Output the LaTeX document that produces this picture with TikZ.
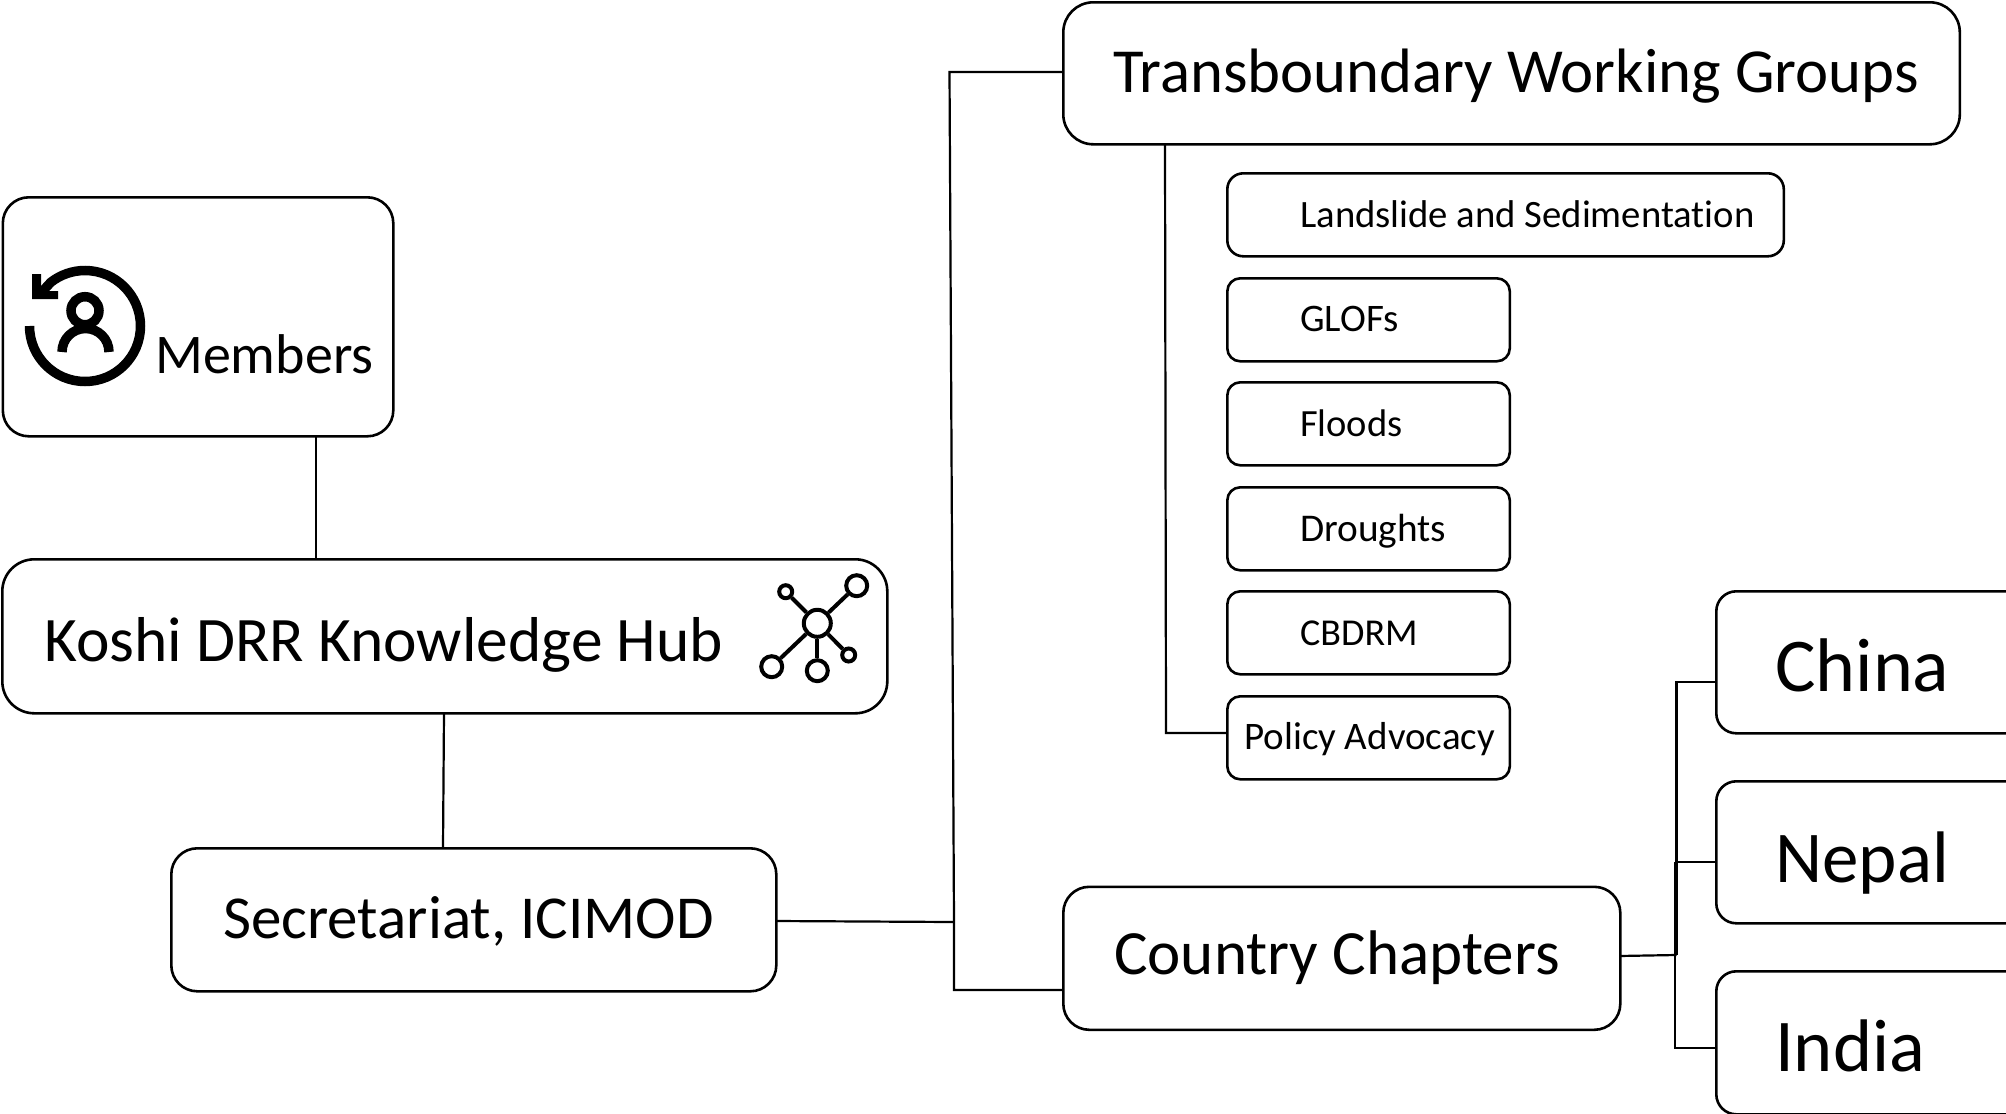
\documentclass[tikz,border=0pt]{standalone}
\usepackage{fontspec}
\setmainfont[Ligatures=NoCommon,Contextuals=NoAlternate]{Carlito}
\tikzset{
  x=1pt,y=1pt,
  box/.style={draw=black,line width=2.6pt,rounded corners=#1,fill=white,inner sep=0pt},
  box/.default=20pt,
  conn/.style={draw=black,line width=2.2pt,line join=miter},
  lab/.style={anchor=base west,inner sep=0pt,text=black,font=\fontsize{#1}{#1}\selectfont},
  netbig/.style={circle,draw=black,line width=4pt,inner sep=0pt,minimum size=21pt},
  netsm/.style={circle,draw=black,line width=4pt,inner sep=0pt,minimum size=13pt},
  netmid/.style={circle,draw=black,line width=4pt,inner sep=0pt,minimum size=27pt},
  netline/.style={draw=black,line width=4pt},
  icon/.style={draw=black,line width=9.5pt}
}
\newcommand{\rbox}[6]{% name, x1, ytop, x2, ybot, radius
  \node[box=#6,anchor=north west,minimum width=#4pt-#2pt,minimum height=#5pt-#3pt] (#1) at (#2,-#3) {};
}
\begin{document}
\begin{tikzpicture}
\useasboundingbox (0,-1114) rectangle (2006,0);
\fill[white] (0,-1114) rectangle (2006,0);
% connector free points
\coordinate (a1) at (949.5,-72);
\coordinate (a2) at (954,-922);
\coordinate (a3) at (954,-990);
\coordinate (b1) at (1165,-143);
\coordinate (b2) at (1166,-733);
\coordinate (c1) at (1676.5,-955);
\coordinate (c3) at (1676.5,-682);
\coordinate (c5) at (1675,-862);
\coordinate (c4) at (1675,-1048);
\coordinate (m1) at (316,-436);
\coordinate (m2) at (316,-558);
\coordinate (h1) at (444,-712);
\coordinate (h2) at (443,-848);
\coordinate (s1) at (775,-921);
\coordinate (t1) at (1062,-72);
\coordinate (cc1) at (1062,-990);
\coordinate (cc2) at (1619,-956);
\coordinate (p1) at (1226,-733);
\coordinate (ch1) at (1715,-682);
\coordinate (ne1) at (1715,-862);
\coordinate (in1) at (1715,-1048);
% connectors
\draw[conn] (m1) -- (m2);
\draw[conn] (h1) -- (h2);
\draw[conn] (s1) -- (a2);
\draw[conn] (t1) -- (a1) -- (a2) -- (a3) -- (cc1);
\draw[conn] (b1) -- (b2) -- (p1);
\draw[conn] (cc2) -- (c1);
\draw[conn] (c1) -- (c3) -- (ch1);
\draw[conn] (c5) -- (ne1);
\draw[conn] (c5) -- (c4) -- (in1);
% boxes
\rbox{members}{1.5}{196}{392}{435}{26pt}
\rbox{hub}{1}{558}{886}{712}{32pt}
\rbox{sec}{170}{847}{775}{990}{26pt}
\rbox{twg}{1062}{1}{1958.5}{143}{30pt}
\rbox{land}{1226}{172}{1782.5}{255}{16pt}
\rbox{glof}{1226}{277}{1508.5}{360}{13pt}
\rbox{flood}{1226}{381}{1508.5}{464}{13pt}
\rbox{drought}{1226}{486}{1508.5}{569}{13pt}
\rbox{cbdrm}{1226}{590}{1508.5}{673}{13pt}
\rbox{policy}{1226}{695}{1508.5}{778}{13pt}
\rbox{country}{1062}{885.5}{1619}{1028.5}{26pt}
\rbox{china}{1715}{590}{2030}{732}{20pt}
\rbox{nepal}{1715}{780}{2030}{922}{20pt}
\rbox{india}{1715}{970}{2030}{1113}{20pt}
% labels
\node[lab=56] (tMembers) at (155,-373) {Members};
\node[lab=63.4] (tHub) at (44,-661) {Koshi DRR Knowledge Hub};
\node[lab=61] (tSec) at (223,-938) {Secretariat, ICIMOD};
\node[lab=62.7] (tTwg) at (1113,-92) {Transboundary Working Groups};
\node[lab=38.7] (tLand) at (1300,-227) {Landslide and Sedimentation};
\node[lab=39] (tGlof) at (1300,-331) {GLOFs};
\node[lab=38.5] (tFlood) at (1300,-436) {Floods};
\node[lab=39.3] (tDrought) at (1300,-541) {Droughts};
\node[lab=38] (tCbdrm) at (1300,-645) {CBDRM};
\node[lab=39] (tPolicy) at (1244,-749) {Policy Advocacy};
\node[lab=63] (tCountry) at (1114,-974) {Country Chapters};
\node[lab=76] (tChina) at (1775,-691) {China};
\node[lab=73] (tNepal) at (1775,-882) {Nepal};
\node[lab=74.5] (tIndia) at (1775,-1071) {India};
% member icon
\draw[icon] (29.5,-326) arc[start angle=180,end angle=488,radius=55.5pt] -- (40,-294);
\fill[black] (32,-274) -- (41,-274) -- (41,-291) -- (58,-291) -- (58,-299) -- (32,-299) -- cycle;
\draw[icon] (85,-310.7) circle[radius=14pt];
\draw[icon] (62,-352) arc[start angle=180,end angle=0,radius=23.5pt];
% network icon
\node[netmid] (n0) at (817.3,-623.3) {};
\node[netsm] (n1) at (785.7,-591.7) {};
\node[netbig] (n2) at (856.7,-585.7) {};
\node[netbig] (n3) at (771.7,-666.7) {};
\node[netbig] (n4) at (817.3,-670.7) {};
\node[netsm] (n5) at (848.7,-655) {};
\foreach \k in {1,...,5} \draw[netline] (n0) -- (n\k);
\end{tikzpicture}
\end{document}
